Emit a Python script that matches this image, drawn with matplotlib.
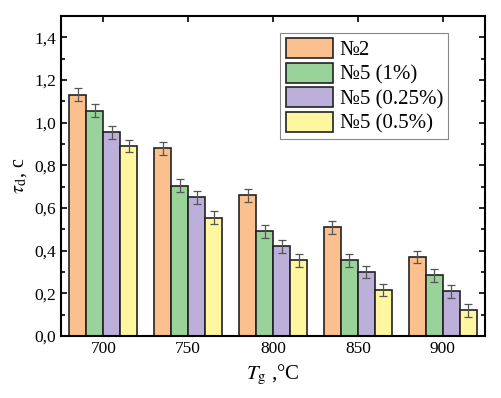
import matplotlib
matplotlib.use('Agg')
import matplotlib.pyplot as plt
from matplotlib.ticker import MultipleLocator, FuncFormatter
import numpy as np

temps = ['700', '750', '800', '850', '900']
labels = ['№2', '№5 (1%)', '№5 (0.25%)', '№5 (0.5%)']
tau_n2 = [1.13, 0.88, 0.66, 0.51, 0.37]
tau_n5_1 = [1.055, 0.705, 0.49, 0.355, 0.285]
tau_n5_025 = [0.955, 0.65, 0.42, 0.30, 0.21]
tau_n5_05 = [0.89, 0.555, 0.355, 0.215, 0.12]
err_n2 = [0.03, 0.03, 0.03, 0.03, 0.03]
err_n5_1 = [0.03, 0.03, 0.03, 0.03, 0.03]
err_n5_025 = [0.03, 0.03, 0.03, 0.03, 0.03]
err_n5_05 = [0.03, 0.03, 0.03, 0.03, 0.03]

series = [tau_n2, tau_n5_1, tau_n5_025, tau_n5_05]
errors = [err_n2, err_n5_1, err_n5_025, err_n5_05]
colors = ['#fcc08e', '#99d39a', '#bcb0db', '#fff6a0']

plt.rcParams['font.family'] = ['Liberation Serif', 'DejaVu Serif']
plt.rcParams['mathtext.fontset'] = 'stix'

fig = plt.figure(figsize=(5.02, 3.98), dpi=100)
ax = fig.add_axes([0.1215, 0.156, 0.845, 0.804])

x = np.arange(len(temps))
w = 0.2
for i in range(4):
    ax.bar(x + (i - 1.5) * w, series[i], w, yerr=errors[i], color=colors[i],
           edgecolor='#222222', linewidth=1.2, label=labels[i],
           error_kw=dict(ecolor='#555555', elinewidth=0.9, capsize=3, capthick=0.9))

ax.set_xlim(-0.5, 4.5)
ax.set_ylim(0, 1.5)
ax.set_xticks(x)
ax.set_xticklabels(temps)
ax.yaxis.set_major_locator(MultipleLocator(0.2))
ax.yaxis.set_minor_locator(MultipleLocator(0.1))
ax.yaxis.set_major_formatter(FuncFormatter(lambda v, p: f'{v:.1f}'.replace('.', ',')))
ax.tick_params(axis='y', which='both', direction='in', right=True, labelsize=12.5, width=1.2)
ax.tick_params(axis='y', which='major', length=4)
ax.tick_params(axis='y', which='minor', length=3)
ax.tick_params(axis='x', which='both', direction='in', top=True, bottom=False, labelsize=12.5, width=1.2, length=4)
for s in ax.spines.values():
    s.set_linewidth(1.5)

ax.set_ylabel(r'$\tau_{\rm d}$, с', fontsize=14.5)
ax.set_xlabel(r'$T_{\rm g}$ ,°C', fontsize=15)

leg = ax.legend(loc='upper right', bbox_to_anchor=(0.913, 0.947), borderaxespad=0,
                fontsize=15, handlelength=2.3, handleheight=1.1, labelspacing=0.12,
                borderpad=0.25, handletextpad=0.3, fancybox=False, framealpha=1)
leg.get_frame().set_edgecolor('#888888')
leg.get_frame().set_linewidth(0.8)

fig.savefig('out.png', dpi=100)
